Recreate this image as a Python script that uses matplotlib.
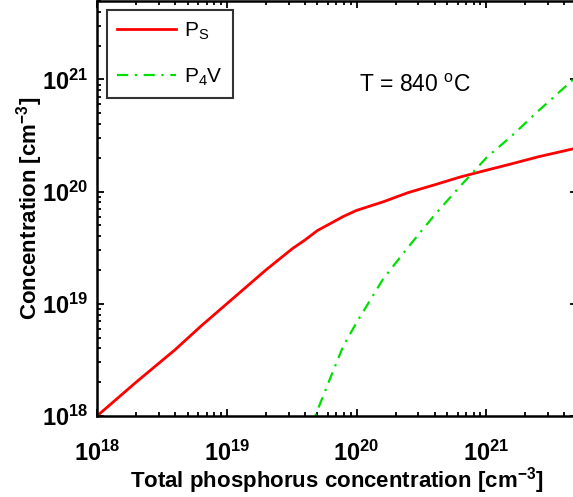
import matplotlib
matplotlib.use("Agg")
import matplotlib.pyplot as plt
from matplotlib.ticker import LogLocator, NullFormatter

plt.rcParams['font.family'] = ['Liberation Sans', 'DejaVu Sans']
plt.rcParams['mathtext.fontset'] = 'custom'
plt.rcParams['mathtext.rm'] = 'Liberation Sans:bold'
plt.rcParams['mathtext.it'] = 'Liberation Sans:bold'
plt.rcParams['mathtext.bf'] = 'Liberation Sans:bold'
plt.rcParams['mathtext.sf'] = 'Liberation Sans'

# Red: substitutional P (P_S)
ps_total = [1e18, 2e18, 4e18, 6.3e18, 1e19, 1.6e19, 2e19, 3.2e19, 4e19, 5e19, 6.3e19,
            7.9e19, 1e20, 1.6e20, 2.5e20, 4e20, 6.3e20, 1e21, 1.6e21, 2.5e21, 5e21]
ps_conc = [1e18, 2e18, 3.9e18, 6.3e18, 1e19, 1.6e19, 2e19, 3.1e19, 3.7e19, 4.5e19, 5.2e19,
           6.0e19, 6.8e19, 8.1e19, 9.8e19, 1.15e20, 1.35e20, 1.55e20, 1.78e20, 2.04e20, 2.45e20]

# Green: P4V clusters
p4v_total = [4.6e19, 4.8e19, 6.3e19, 7.9e19, 1e20, 1.6e20, 2.5e20, 4e20, 6.3e20, 1e21,
             1.6e21, 2.5e21, 5e21]
p4v_conc = [7e17, 1e18, 2.2e18, 4.2e18, 6.8e18, 1.66e19, 3.2e19, 6.2e19, 1.12e20, 2.0e20,
            3.2e20, 5.2e20, 1.07e21]

xlim = (1e18, 5e21)
ylim = (1e18, 5e21)

W, H = 573, 497
fig = plt.figure(figsize=(W/100, H/100), dpi=100)
ax = fig.add_axes([97/W, 1-416/H, 480/W, 415/H])

ax.plot(ps_total, ps_conc, color='#ff0000', lw=2.0, label=r'P$_{\mathsf{S}}$')
ax.plot(p4v_total, p4v_conc, color='#00e000', lw=1.6, dashes=(5, 3, 1, 3),
        label=r'P$_{\mathsf{4}}$V')

ax.set_xscale('log')
ax.set_yscale('log')
ax.set_xlim(*xlim)
ax.set_ylim(*ylim)

for s in ax.spines.values():
    s.set_linewidth(1.8)

ax.tick_params(which='both', direction='in', top=True, right=True, width=1.3)
ax.tick_params(which='major', length=5, labelsize=17)
ax.tick_params(axis='x', which='major', pad=18)
ax.tick_params(axis='y', which='major', pad=6)
ax.tick_params(which='minor', length=3)
ax.xaxis.set_major_locator(LogLocator(base=10, numticks=10))
ax.yaxis.set_major_locator(LogLocator(base=10, numticks=10))
ax.xaxis.set_minor_locator(LogLocator(base=10, subs=range(2, 10), numticks=20))
ax.yaxis.set_minor_locator(LogLocator(base=10, subs=range(2, 10), numticks=20))
ax.xaxis.set_minor_formatter(NullFormatter())
ax.yaxis.set_minor_formatter(NullFormatter())
for lab in ax.get_xticklabels() + ax.get_yticklabels():
    lab.set_fontweight('bold')

ax.set_xlabel('Total phosphorus concentration [cm$^{-3}$]', fontsize=16, fontweight='bold')
ax.set_ylabel('Concentration [cm$^{-3}$]', fontsize=16, fontweight='bold')
ax.xaxis.set_label_coords(0.5, -(481-416)/415)
ax.yaxis.set_label_coords(-(97-30)/480, 0.5)
ax.xaxis.label.set_va('center')
ax.yaxis.label.set_va('center')

ax.text(1.05e20, 7.7e20, r'T = 840 $^{\mathsf{o}}$C', fontsize=16.5, ha='left', va='baseline')

leg = ax.legend(loc='upper left', bbox_to_anchor=(10/480, 1-9/415), fontsize=15,
                frameon=True, fancybox=False, edgecolor='black', handlelength=2.8,
                borderaxespad=0, borderpad=0.5, labelspacing=1.2, handletextpad=0.4)
leg.get_frame().set_linewidth(1.5)

fig.savefig('out.png', dpi=100)
